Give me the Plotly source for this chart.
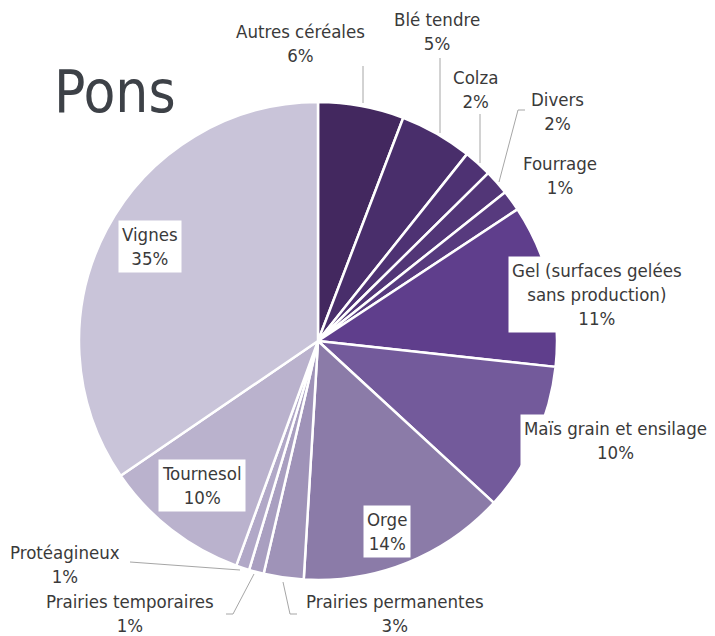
import plotly.graph_objects as go

W, H = 715, 636

# slices in clockwise order from 12 o'clock
labels = ["Autres céréales", "Blé tendre", "Colza", "Divers", "Fourrage",
          "Gel (surfaces gelées sans production)", "Maïs grain et ensilage", "Orge",
          "Prairies permanentes", "Prairies temporaires", "Protéagineux",
          "Tournesol", "Vignes"]
shares = [5.8, 4.9, 1.9, 1.7, 1.4, 11.0, 10.1, 14.1, 2.7, 1.0, 0.9, 9.9, 34.5]
pct_text = ["6%", "5%", "2%", "2%", "1%", "11%", "10%", "14%", "3%", "1%", "1%", "10%", "35%"]
colors = ["#43285f", "#492e6b", "#4e3273", "#523677", "#573a7e", "#5f3e8c", "#735a9b",
          "#8b7ba8", "#9f93b8", "#a99fc0", "#b1a8c7", "#bab2cd", "#c9c4d9"]

def pxy(x, y):
    # pixels -> paper coords
    return x / W, 1 - y / H

# pie placement (pixels): centre and radius
cx, cy, r = 318, 341, 239
x0, y1 = pxy(cx - r, cy - r)
x1, y0 = pxy(cx + r, cy + r)

fig = go.Figure(go.Pie(
    labels=labels,
    values=shares,
    sort=False,
    direction="clockwise",
    rotation=0,
    marker=dict(colors=colors, line=dict(color="white", width=2.5)),
    textinfo="none",
    hovertemplate="%{label}<extra></extra>",
    domain=dict(x=[x0, x1], y=[y0, y1]),
    showlegend=False,
))

# label positions (pixel centre), display text, boxed or not
label_pos = [
    (300, 43, "Autres céréales", False),
    (437, 31, "Blé tendre", False),
    (475, 89, "Colza", False),
    (557, 111, "Divers", False),
    (560, 176, "Fourrage", False),
    (597, 295, "Gel (surfaces gelées<br>sans production)", True),
    (615, 440, "Maïs grain et ensilage", True),
    (387, 531, "Orge", True),
    (395, 613, "Prairies permanentes", False),
    (130, 613, "Prairies temporaires", False),
    (65, 564, "Protéagineux", False),
    (202, 485, "Tournesol", True),
    (150, 247, "Vignes", True),
]

font_family = "Liberation Sans Narrow, DejaVu Sans Condensed, Roboto, sans-serif"
font = dict(family=font_family, size=18.5, color="#3a3a3a")

for (x, y, txt, boxed), pct in zip(label_pos, pct_text):
    ax, ay = pxy(x, y)
    fig.add_annotation(
        x=ax, y=ay, xref="paper", yref="paper",
        text=f"{txt}<br>{pct}", showarrow=False,
        xanchor="center", yanchor="middle",
        font=font, align="center",
        bgcolor="white" if boxed else "rgba(0,0,0,0)",
        borderpad=3,
    )

# leader lines (pixel polylines)
leaders = [
    [(363, 66), (363, 103)],
    [(440, 58), (440, 133)],
    [(480, 114), (480, 163)],
    [(525, 110), (518, 110), (499, 182)],
    [(130, 562), (240, 570)],
    [(226, 614), (233, 614), (254, 574)],
    [(297, 614), (290, 614), (283, 582)],
]
for pts in leaders:
    for (xa, ya), (xb, yb) in zip(pts[:-1], pts[1:]):
        a0, b0 = pxy(xa, ya)
        a1, b1 = pxy(xb, yb)
        fig.add_shape(type="line", xref="paper", yref="paper",
                      x0=a0, y0=b0, x1=a1, y1=b1,
                      line=dict(color="#a6a6a6", width=1))

# title
tx, ty = pxy(52, 92)
fig.add_annotation(
    x=tx, y=ty, xref="paper", yref="paper", text="Pons", showarrow=False,
    xanchor="left", yanchor="middle",
    font=dict(family=font_family, size=58, color="#3d4147"),
)

fig.update_layout(
    width=W, height=H,
    margin=dict(l=0, r=0, t=0, b=0),
    paper_bgcolor="white",
    plot_bgcolor="white",
)

# drop the browser's default body margin so the figure fills the window
fig.write_html("out.html",
               config={"displayModeBar": False},
               post_script="document.body.style.margin='0';document.body.style.overflow='hidden';")
